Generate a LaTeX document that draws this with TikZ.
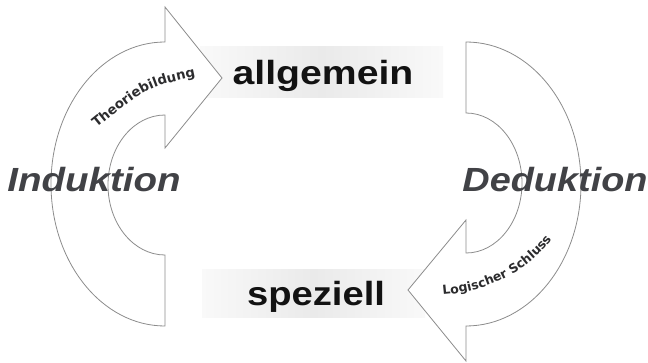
\documentclass[tikz,border=0pt]{standalone}
\usepackage{fontspec}
\usepackage{graphicx}
\usetikzlibrary{decorations.text}
\newfontfamily\headfont{Liberation Sans}
\newfontfamily\tagfont{DejaVu Sans}
\definecolor{outline}{HTML}{8C8C8C}
\definecolor{termgray}{HTML}{414246}
\definecolor{tagink}{HTML}{2C2C2E}
\definecolor{boxmid}{HTML}{EAEAEA}
\definecolor{boxedge}{HTML}{F9F9F9}

\begin{document}
\begin{tikzpicture}[x=1pt,y=-1pt,
  curvedarrow/.style={draw=outline, fill=white, line width=0.8pt, line join=miter},
  band/.style={left color=boxedge, right color=boxedge, middle color=boxmid,
    draw=none, inner sep=0pt},
  level/.style={inner sep=0pt, anchor=base, text=black!93,
    font=\headfont\bfseries\fontsize{33.5}{36}\selectfont},
  method/.style={inner sep=0pt, anchor=base, text=termgray,
    font=\headfont\bfseries\itshape\fontsize{33.5}{36}\selectfont},
  tag/.style={decorate, decoration={text along path, text align=center,
    text color=tagink, text format delimiters={|}{|}}},
]
\useasboundingbox (0,0) rectangle (648,363);

% shaded strips behind the two levels
\node[band, minimum width=243pt, minimum height=51pt] (allgband) at (321.5,72.5) {};
\node[band, minimum width=223pt, minimum height=48pt] (spezband) at (313.5,294) {};

% induction: curved arrow rising on the left
\path[curvedarrow] (165,42) arc[start angle=270, end angle=90, x radius=114, y radius=142]
  -- (165,255) arc[start angle=90, end angle=270, x radius=57, y radius=70]
  -- (165,148) -- (222,78) -- (165,7) -- cycle;

% deduction: curved arrow descending on the right
\path[curvedarrow] (466,326) arc[start angle=90, end angle=-90, x radius=115, y radius=142]
  -- (466,113) arc[start angle=-90, end angle=90, x radius=56, y radius=70]
  -- (466,220) -- (408,290) -- (466,361) -- cycle;

% labels bent along the arrows
\path[tag, decoration={text={|\tagfont\bfseries\fontsize{13.3}{15}\selectfont|Theoriebildung}}]
  (94,130) .. controls (147,87) .. (199,76);
\path[tag, decoration={text={|\tagfont\bfseries\fontsize{12.5}{14}\selectfont|Logischer Schluss}}]
  (439,295) .. controls (475,293) and (523,280) .. (554,236);

% levels and methods
\node[level] (allg) at (323,85) {\scalebox{1.17}[1]{allgemein}};
\node[level] (spez) at (316,306) {\scalebox{1.14}[1]{speziell}};
\node[method] (ind) at (94,192) {\scalebox{1.15}[1]{Induktion}};
\node[method] (ded) at (555,192) {\scalebox{1.13}[1]{Deduktion}};
\end{tikzpicture}
\end{document}
